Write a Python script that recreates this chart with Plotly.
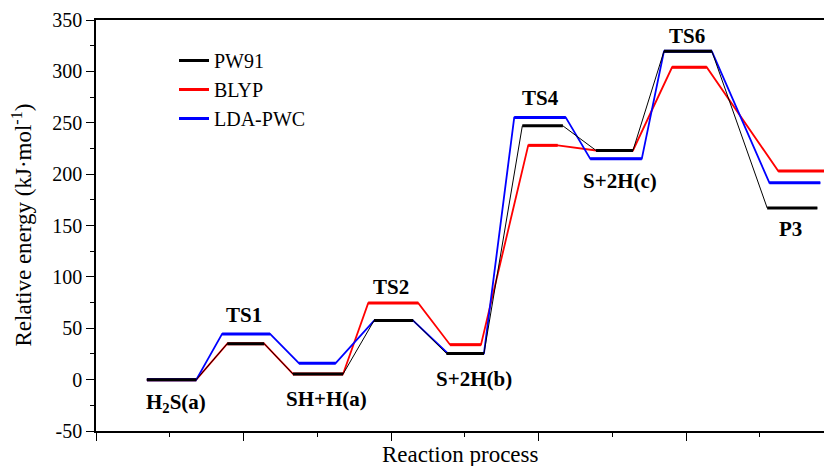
import plotly.graph_objects as go

# ---- data ----
levels = ["H2S(a)", "TS1", "SH+H(a)", "TS2", "S+2H(b)", "TS4", "S+2H(c)", "TS6", "P3"]
label_text = ["H<sub>2</sub>S(a)", "TS1", "SH+H(a)", "TS2", "S+2H(b)", "TS4", "S+2H(c)", "TS6", "P3"]

pw91 = [0, 35, 5.5, 57.5, 25.5, 247, 223, 319.5, 167]
blyp = [0, 35, 5.5, 74.5, 34, 228, 223, 304, 203]
lda = [0, 44.5, 16, 57.5, 25.5, 255, 215, 319.5, 191.5]

# reaction-coordinate extents of each level
pw91_start = [0.69, 1.78, 2.67, 3.77, 4.75, 5.78, 6.78, 7.70, 9.10]
pw91_end = [1.36, 2.28, 3.35, 4.30, 5.26, 6.33, 7.28, 8.35, 9.78]
blyp_start = [0.69, 1.78, 2.67, 3.69, 4.80, 5.86, 6.78, 7.81, 9.25]
blyp_end = [1.36, 2.28, 3.35, 4.37, 5.22, 6.26, 7.28, 8.28, 10.0]
lda_start = [0.69, 1.71, 2.75, 3.77, 4.77, 5.67, 6.70, 7.70, 9.13]
lda_end = [1.36, 2.36, 3.25, 4.30, 5.26, 6.37, 7.40, 8.35, 9.82]

# label anchor points (reaction coordinate, energy)
label_x = [1.08, 2.01, 3.12, 4.0, 5.13, 6.02, 7.11, 8.01, 9.41]
label_y = [-23, 63, -18.5, 90, 1, 274.5, 193.5, 334, 147]

y_ticks = [-50, 0, 50, 100, 150, 200, 250, 300, 350]
y_ticktext = ["-50", "0", "50", "100", "150", "200", "250", "300", "350"]

FONT = "Liberation Serif"

series = [
    ("BLYP", blyp, blyp_start, blyp_end, "#ff0000", 1.8, 2),
    ("LDA-PWC", lda, lda_start, lda_end, "#0000ff", 1.8, 3),
    ("PW91", pw91, pw91_start, pw91_end, "#000000", 1.0, 1),
]

fig = go.Figure()
for name, vals, xs, xe, color, cw, rank in series:
    px, py = [], []
    lx, ly = [], []
    for v, a, b in zip(vals, xs, xe):
        px += [a, b]
        py += [v, v]
        lx += [a, b, None]
        ly += [v, v, None]
    fig.add_trace(go.Scatter(x=px, y=py, mode="lines", showlegend=False,
                             line=dict(color=color, width=cw), hoverinfo="skip"))
    fig.add_trace(go.Scatter(x=lx, y=ly, mode="lines", name=name, legendrank=rank,
                             line=dict(color=color, width=3)))

for t, x, y in zip(label_text, label_x, label_y):
    fig.add_annotation(x=x, y=y, text="<b>" + t + "</b>", showarrow=False,
                       xanchor="center", yanchor="middle",
                       font=dict(family=FONT, size=21, color="black"))

fig.add_annotation(xref="paper", yref="paper", x=(22 - 96) / 728, y=0.5,
                   xanchor="center", yanchor="middle",
                   text="Relative energy (kJ·mol<sup>-1</sup>)", textangle=-90,
                   showarrow=False, font=dict(family=FONT, size=23, color="black"))
fig.add_annotation(xref="paper", yref="paper", x=0.5, y=(431 - 455) / 411,
                   xanchor="center", yanchor="middle",
                   text="Reaction process", showarrow=False,
                   font=dict(family=FONT, size=23, color="black"))

fig.update_layout(
    width=824, height=466,
    margin=dict(l=96, r=0, t=20, b=35),
    plot_bgcolor="white", paper_bgcolor="white",
    font=dict(family=FONT, size=20, color="black"),
    legend=dict(x=(174 - 96) / 728, y=(431 - 41) / 411, xanchor="left", yanchor="top",
                bgcolor="rgba(0,0,0,0)", font=dict(family=FONT, size=20),
                tracegroupgap=0),
    xaxis=dict(range=[0, 9.87], showgrid=False, zeroline=False, showline=True,
               linecolor="black", linewidth=1.5, mirror=True,
               tick0=0, dtick=2, ticks="outside", ticklen=8, tickwidth=1.2,
               tickcolor="black", showticklabels=False,
               minor=dict(dtick=1, ticks="outside", ticklen=4, tickwidth=1.2,
                          tickcolor="black")),
    yaxis=dict(range=[-50, 350], showgrid=False, zeroline=False, showline=True,
               linecolor="black", linewidth=1.5,
               tickvals=y_ticks, ticktext=y_ticktext, ticks="outside", ticklen=8,
               tickwidth=1.2, tickcolor="black", tickfont=dict(family=FONT, size=20),
               minor=dict(dtick=25, ticks="outside", ticklen=4, tickwidth=1.2,
                          tickcolor="black")),
)

fig.write_html(
    "out.html",
    config={"displayModeBar": False},
    post_script="document.body.style.margin='0';document.body.style.overflow='hidden';",
)
